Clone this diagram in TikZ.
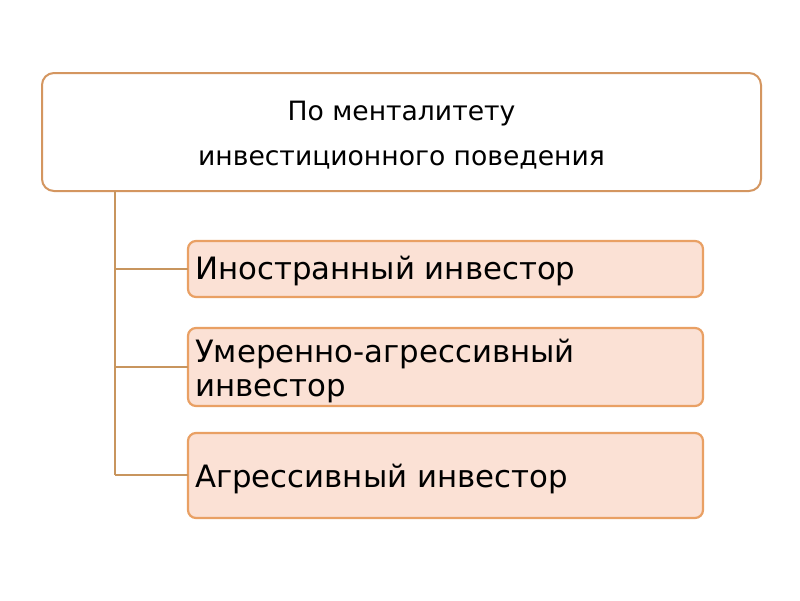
\documentclass[tikz,border=0pt]{standalone}
\usepackage{fontspec}
\setmainfont{DejaVu Sans}
\definecolor{topline}{HTML}{D49660}
\definecolor{childline}{HTML}{E9A064}
\definecolor{childfill}{HTML}{FBE1D5}
\definecolor{conn}{HTML}{C8955E}
\tikzset{
  topbox/.style={draw=topline, line width=2pt, rounded corners=12pt, fill=white},
  childbox/.style={draw=childline, line width=2.2pt, rounded corners=8pt, fill=childfill},
  connector/.style={draw=conn, line width=2pt},
  childtext/.style={anchor=west, align=left, font=\fontsize{30.8}{34}\selectfont, inner sep=0pt},
}
\begin{document}
\begin{tikzpicture}[x=1pt,y=-1pt]
\useasboundingbox (0,0) rectangle (800,600);
\fill[white] (0,0) rectangle (800,600);
% top box
\draw[topbox] (42,73) rectangle (761,191);
\node[align=center, font=\fontsize{26.6}{45}\selectfont, inner sep=0pt] (top) at (401.5,135.5) {По менталитету\\инвестиционного поведения};
\coordinate (topb) at (115,191);
% children
\draw[childbox] (188,241) rectangle (703,297);
\node[childtext] (c1) at (195,271) {Иностранный инвестор};
\draw[childbox] (188,328) rectangle (703,406);
\node[childtext] (c2) at (195,371) {Умеренно-агрессивный\\инвестор};
\draw[childbox] (188,433) rectangle (703,518);
\node[childtext] (c3) at (195,479) {Агрессивный инвестор};
\coordinate (j1) at (115,269);
\coordinate (j2) at (115,367);
\coordinate (j3) at (115,475);
\coordinate (e1) at (188,269);
\coordinate (e2) at (188,367);
\coordinate (e3) at (188,475);
\draw[connector] (topb) -- (j3);
\draw[connector] (j1) -- (e1);
\draw[connector] (j2) -- (e2);
\draw[connector] (j3) -- (e3);
\end{tikzpicture}
\end{document}
